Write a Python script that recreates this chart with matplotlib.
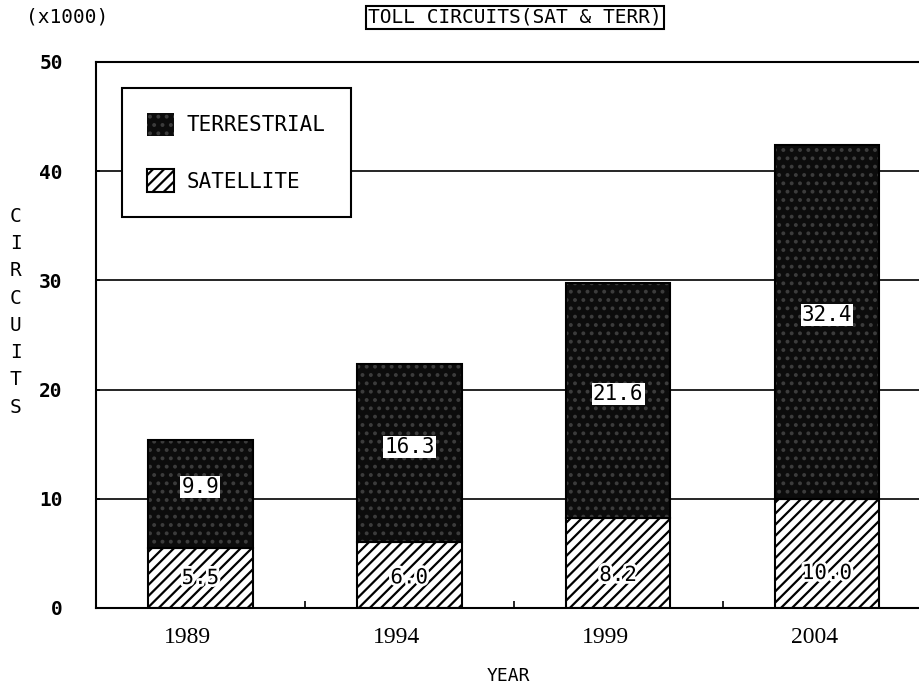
import numpy as np
import matplotlib.pyplot as plt
import matplotlib.patheffects as pe

years = ['1989', '1994', '1999', '2004']
satellite = [5.5, 6.0, 8.2, 10.0]
terrestrial = [9.9, 16.3, 21.6, 32.4]

plt.rcParams['font.family'] = 'DejaVu Sans Mono'
plt.rcParams['hatch.linewidth'] = 1.6


def make_chart():
    fig = plt.figure(figsize=(9.19, 6.88), dpi=100)
    ax = fig.add_axes([0.1045, 0.1163, 0.8955, 0.7937])

    x = np.arange(len(years))
    sat = np.array(satellite)
    ter = np.array(terrestrial)
    w = 0.5

    # grid behind bars
    ax.set_axisbelow(True)
    ax.yaxis.grid(True, color='black', linewidth=1.2)

    # satellite: white with diagonal hatch
    b_sat = ax.bar(x, sat, w, color='white', edgecolor='black', hatch='///',
                   linewidth=1.5, zorder=2)
    # terrestrial: nearly black stipple
    b_ter = ax.bar(x, ter, w, bottom=sat, color='#0c0c0c', edgecolor='#3c3c3c', hatch='..',
                   linewidth=0, zorder=2)
    ax.bar(x, ter, w, bottom=sat, fill=False, edgecolor='black', linewidth=1.5, zorder=3)

    for xi, s, t in zip(x, sat, ter):
        ax.text(xi, s + t / 2 + 0.6, f'{t:.1f}', ha='center', va='center', fontsize=15,
                color='black', zorder=5,
                bbox=dict(facecolor='white', edgecolor='none', pad=0.8))
        ax.text(xi, 2.2 + s * 0.1, f'{s:.1f}', ha='center', va='center', fontsize=15,
                color='black', zorder=5,
                path_effects=[pe.withStroke(linewidth=4, foreground='white')])

    ax.set_xlim(-0.5, 3.44)
    ax.set_ylim(0, 50)
    ax.set_yticks([0, 10, 20, 30, 40, 50])
    # year labels sit a little left of the bar centres in the original
    ax.set_xticks(x - 0.062)
    ax.set_xticklabels(years, fontsize=17, family='Liberation Serif')
    ax.tick_params(axis='x', length=0, pad=14)
    ax.set_xticks([0.5, 1.5, 2.5], minor=True)
    ax.tick_params(axis='x', which='minor', direction='in', length=5, width=1.2)
    ax.tick_params(axis='y', direction='in', length=3, labelsize=14, pad=24, width=1.2)
    for lbl in ax.get_yticklabels():
        lbl.set_fontweight('bold')

    ax.spines['right'].set_visible(False)
    for sp in ['left', 'bottom', 'top']:
        ax.spines[sp].set_linewidth(1.5)

    leg = ax.legend(handles=[b_ter, b_sat], labels=['TERRESTRIAL', 'SATELLITE'],
                    loc='upper left', bbox_to_anchor=(0.032, 0.952), fontsize=15,
                    frameon=True, fancybox=False, edgecolor='black', framealpha=1,
                    handlelength=1.3, handleheight=1.3, borderpad=1.2,
                    labelspacing=1.6, handletextpad=0.6, borderaxespad=0)
    leg.get_frame().set_linewidth(1.5)
    leg.set_zorder(6)

    fig.text(0.073, 0.975, '(x1000)', ha='center', va='center', fontsize=14)
    fig.text(0.56, 0.975, 'TOLL CIRCUITS(SAT & TERR)', ha='center', va='center', fontsize=14,
             bbox=dict(facecolor='white', edgecolor='black', linewidth=1.5, pad=1.5))
    fig.text(0.017, 0.547, '\n'.join('CIRCUITS'), ha='center', va='center', fontsize=14,
             linespacing=1.55)
    fig.text(0.553, 0.018, 'YEAR', ha='center', va='center', fontsize=13)

    fig.savefig('out.png', dpi=100)


if __name__ == '__main__':
    make_chart()
